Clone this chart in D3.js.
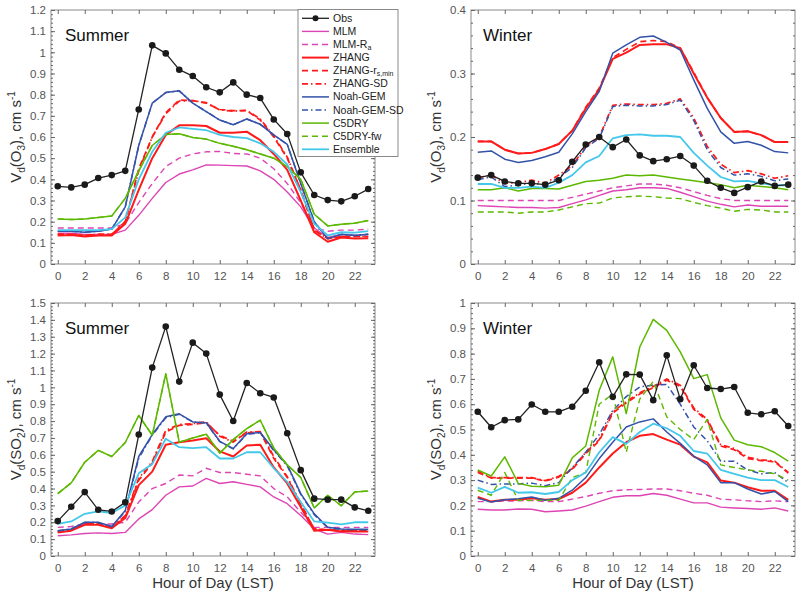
<!DOCTYPE html>
<html>
<head>
<meta charset="utf-8">
<script src="https://cdn.jsdelivr.net/npm/d3@7"></script>
<style>
    body { margin: 0; background: #fff; }
    svg { font-family: "Liberation Sans", Arial, sans-serif; }
</style>
</head>
<body>
<div id="chart"></div>
<script>
const hours = [0, 1, 2, 3, 4, 5, 6, 7, 8, 9, 10, 11, 12, 13, 14, 15, 16, 17, 18, 19, 20, 21, 22, 23];
const xTickHours = [0, 2, 4, 6, 8, 10, 12, 14, 16, 18, 20, 22];

const seriesNames = ["Obs", "MLM", "MLM-Ra", "ZHANG", "ZHANG-rs,min", "ZHANG-SD",
    "Noah-GEM", "Noah-GEM-SD", "C5DRY", "C5DRY-fw", "Ensemble"];

// rows follow seriesNames order
const o3Summer = [
    [0.367, 0.362, 0.375, 0.406, 0.42, 0.44, 0.73, 1.033, 0.995, 0.918, 0.888, 0.835, 0.811, 0.858, 0.80, 0.784, 0.683, 0.614, 0.433, 0.326, 0.302, 0.296, 0.32, 0.354],
    [0.145, 0.145, 0.14, 0.14, 0.14, 0.16, 0.23, 0.31, 0.385, 0.425, 0.445, 0.468, 0.467, 0.465, 0.463, 0.44, 0.40, 0.34, 0.27, 0.17, 0.125, 0.14, 0.135, 0.14],
    [0.17, 0.17, 0.17, 0.17, 0.17, 0.19, 0.29, 0.38, 0.46, 0.50, 0.52, 0.53, 0.532, 0.522, 0.52, 0.50, 0.45, 0.38, 0.29, 0.17, 0.155, 0.16, 0.16, 0.165],
    [0.135, 0.137, 0.13, 0.135, 0.135, 0.19, 0.35, 0.50, 0.61, 0.655, 0.655, 0.652, 0.62, 0.62, 0.625, 0.585, 0.52, 0.445, 0.30, 0.15, 0.105, 0.125, 0.12, 0.122],
    [0.14, 0.14, 0.135, 0.14, 0.14, 0.2, 0.45, 0.60, 0.715, 0.775, 0.772, 0.76, 0.73, 0.725, 0.725, 0.68, 0.60, 0.50, 0.35, 0.16, 0.12, 0.13, 0.13, 0.13],
    [0.14, 0.14, 0.135, 0.14, 0.14, 0.2, 0.44, 0.60, 0.71, 0.77, 0.772, 0.762, 0.728, 0.722, 0.726, 0.685, 0.605, 0.505, 0.35, 0.16, 0.12, 0.13, 0.13, 0.13],
    [0.155, 0.155, 0.15, 0.155, 0.165, 0.27, 0.56, 0.76, 0.81, 0.818, 0.76, 0.72, 0.68, 0.658, 0.685, 0.66, 0.61, 0.565, 0.38, 0.20, 0.12, 0.14, 0.135, 0.14],
    [0.155, 0.155, 0.15, 0.155, 0.165, 0.27, 0.56, 0.76, 0.81, 0.818, 0.76, 0.72, 0.68, 0.658, 0.685, 0.66, 0.61, 0.565, 0.38, 0.20, 0.12, 0.14, 0.135, 0.14],
    [0.213, 0.21, 0.213, 0.22, 0.227, 0.31, 0.44, 0.56, 0.612, 0.615, 0.598, 0.59, 0.57, 0.556, 0.54, 0.52, 0.50, 0.46, 0.40, 0.235, 0.18, 0.188, 0.193, 0.205],
    [0.213, 0.21, 0.213, 0.22, 0.227, 0.31, 0.44, 0.56, 0.612, 0.615, 0.598, 0.59, 0.57, 0.556, 0.54, 0.52, 0.50, 0.46, 0.40, 0.235, 0.18, 0.188, 0.193, 0.205],
    [0.16, 0.16, 0.16, 0.16, 0.165, 0.22, 0.40, 0.53, 0.62, 0.645, 0.638, 0.632, 0.61, 0.60, 0.595, 0.57, 0.53, 0.47, 0.34, 0.19, 0.135, 0.15, 0.148, 0.155]
];

const o3Winter = [
    [0.136, 0.14, 0.13, 0.127, 0.127, 0.125, 0.132, 0.161, 0.188, 0.2, 0.184, 0.196, 0.171, 0.162, 0.165, 0.17, 0.155, 0.131, 0.12, 0.112, 0.121, 0.13, 0.123, 0.125],
    [0.092, 0.091, 0.09, 0.089, 0.089, 0.088, 0.089, 0.095, 0.101, 0.108, 0.115, 0.117, 0.12, 0.12, 0.119, 0.113, 0.106, 0.099, 0.094, 0.09, 0.093, 0.091, 0.091, 0.091],
    [0.1, 0.1, 0.1, 0.1, 0.1, 0.1, 0.1, 0.105, 0.11, 0.115, 0.12, 0.123, 0.126, 0.126, 0.124, 0.12, 0.114, 0.108, 0.103, 0.1, 0.1, 0.1, 0.1, 0.1],
    [0.193, 0.193, 0.18, 0.174, 0.175, 0.181, 0.189, 0.21, 0.245, 0.275, 0.323, 0.333, 0.345, 0.346, 0.346, 0.34, 0.30, 0.262, 0.23, 0.208, 0.209, 0.203, 0.192, 0.192],
    [0.193, 0.193, 0.18, 0.174, 0.175, 0.181, 0.189, 0.21, 0.247, 0.277, 0.325, 0.338, 0.35, 0.352, 0.35, 0.34, 0.302, 0.262, 0.23, 0.208, 0.209, 0.203, 0.192, 0.192],
    [0.136, 0.14, 0.127, 0.128, 0.132, 0.127, 0.14, 0.155, 0.185, 0.2, 0.25, 0.252, 0.251, 0.251, 0.253, 0.26, 0.23, 0.185, 0.157, 0.144, 0.147, 0.142, 0.135, 0.139],
    [0.176, 0.178, 0.165, 0.16, 0.163, 0.169, 0.176, 0.205, 0.24, 0.272, 0.332, 0.345, 0.357, 0.359, 0.349, 0.337, 0.29, 0.245, 0.208, 0.19, 0.193, 0.187, 0.177, 0.175],
    [0.133, 0.137, 0.122, 0.124, 0.128, 0.124, 0.136, 0.152, 0.183, 0.198, 0.248, 0.25, 0.249, 0.249, 0.251, 0.258, 0.226, 0.18, 0.152, 0.14, 0.142, 0.138, 0.131, 0.134],
    [0.117, 0.117, 0.12, 0.115, 0.119, 0.119, 0.118, 0.124, 0.13, 0.132, 0.135, 0.14, 0.139, 0.14, 0.137, 0.134, 0.131, 0.128, 0.125, 0.12, 0.124, 0.122, 0.12, 0.117],
    [0.082, 0.082, 0.082, 0.08, 0.082, 0.082, 0.085, 0.09, 0.095, 0.096, 0.104, 0.106, 0.107, 0.106, 0.104, 0.103, 0.097, 0.092, 0.088, 0.083, 0.086, 0.085, 0.082, 0.082],
    [0.126, 0.126, 0.12, 0.12, 0.122, 0.12, 0.128, 0.14, 0.16, 0.17, 0.198, 0.203, 0.204, 0.202, 0.202, 0.2, 0.175, 0.155, 0.137, 0.13, 0.131, 0.127, 0.124, 0.124]
];

const so2Summer = [
    [0.207, 0.292, 0.379, 0.274, 0.264, 0.318, 0.72, 1.117, 1.36, 1.034, 1.265, 1.2, 0.957, 0.80, 1.026, 0.965, 0.94, 0.728, 0.509, 0.34, 0.334, 0.334, 0.288, 0.268],
    [0.12, 0.125, 0.133, 0.137, 0.133, 0.14, 0.22, 0.275, 0.36, 0.41, 0.415, 0.46, 0.43, 0.44, 0.425, 0.41, 0.35, 0.31, 0.24, 0.16, 0.13, 0.14, 0.13, 0.127],
    [0.17, 0.175, 0.19, 0.19, 0.19, 0.2, 0.32, 0.40, 0.43, 0.48, 0.475, 0.52, 0.495, 0.495, 0.485, 0.475, 0.40, 0.35, 0.26, 0.17, 0.17, 0.17, 0.17, 0.17],
    [0.14, 0.15, 0.185, 0.185, 0.165, 0.225, 0.42, 0.50, 0.66, 0.675, 0.685, 0.698, 0.62, 0.59, 0.655, 0.66, 0.525, 0.43, 0.29, 0.15, 0.155, 0.145, 0.145, 0.145],
    [0.145, 0.155, 0.19, 0.19, 0.17, 0.235, 0.45, 0.55, 0.735, 0.775, 0.78, 0.79, 0.715, 0.68, 0.73, 0.735, 0.58, 0.465, 0.305, 0.16, 0.155, 0.15, 0.15, 0.15],
    [0.145, 0.155, 0.19, 0.19, 0.17, 0.24, 0.46, 0.56, 0.745, 0.78, 0.785, 0.795, 0.71, 0.675, 0.735, 0.738, 0.59, 0.47, 0.31, 0.16, 0.155, 0.15, 0.15, 0.15],
    [0.15, 0.16, 0.2, 0.2, 0.175, 0.27, 0.59, 0.72, 0.825, 0.843, 0.795, 0.79, 0.68, 0.637, 0.725, 0.732, 0.63, 0.54, 0.37, 0.25, 0.17, 0.16, 0.158, 0.158],
    [0.15, 0.16, 0.198, 0.198, 0.173, 0.265, 0.58, 0.715, 0.82, 0.84, 0.795, 0.788, 0.678, 0.635, 0.722, 0.73, 0.625, 0.535, 0.365, 0.245, 0.168, 0.158, 0.156, 0.156],
    [0.37, 0.434, 0.556, 0.626, 0.59, 0.673, 0.833, 0.716, 1.08, 0.675, 0.70, 0.722, 0.61, 0.69, 0.755, 0.805, 0.64, 0.54, 0.465, 0.285, 0.36, 0.298, 0.38, 0.385],
    [0.37, 0.434, 0.556, 0.626, 0.59, 0.673, 0.833, 0.716, 1.08, 0.675, 0.70, 0.722, 0.61, 0.69, 0.755, 0.805, 0.64, 0.54, 0.465, 0.285, 0.36, 0.298, 0.38, 0.385],
    [0.19, 0.205, 0.25, 0.265, 0.255, 0.30, 0.49, 0.545, 0.695, 0.645, 0.64, 0.645, 0.578, 0.578, 0.615, 0.615, 0.52, 0.44, 0.32, 0.205, 0.198, 0.187, 0.2, 0.2]
];

const so2Winter = [
    [0.57, 0.509, 0.537, 0.54, 0.599, 0.57, 0.57, 0.59, 0.653, 0.766, 0.629, 0.718, 0.717, 0.616, 0.793, 0.62, 0.754, 0.664, 0.66, 0.668, 0.566, 0.56, 0.572, 0.514],
    [0.185, 0.182, 0.182, 0.186, 0.185, 0.175, 0.178, 0.182, 0.197, 0.215, 0.232, 0.238, 0.238, 0.247, 0.24, 0.225, 0.21, 0.21, 0.193, 0.19, 0.188, 0.185, 0.19, 0.178],
    [0.215, 0.215, 0.217, 0.218, 0.22, 0.215, 0.215, 0.225, 0.235, 0.248, 0.258, 0.262, 0.263, 0.265, 0.265, 0.258, 0.248, 0.24, 0.225, 0.222, 0.218, 0.215, 0.218, 0.215],
    [0.233, 0.215, 0.222, 0.222, 0.228, 0.222, 0.225, 0.25, 0.29, 0.35, 0.405, 0.45, 0.475, 0.482, 0.46, 0.44, 0.393, 0.37, 0.298, 0.29, 0.272, 0.258, 0.258, 0.222],
    [0.33, 0.308, 0.308, 0.308, 0.308, 0.296, 0.312, 0.342, 0.405, 0.455, 0.565, 0.605, 0.64, 0.665, 0.695, 0.67, 0.58, 0.535, 0.435, 0.42, 0.385, 0.377, 0.372, 0.328],
    [0.335, 0.31, 0.31, 0.31, 0.31, 0.298, 0.315, 0.345, 0.41, 0.46, 0.57, 0.61, 0.645, 0.67, 0.70, 0.675, 0.585, 0.54, 0.44, 0.425, 0.39, 0.38, 0.375, 0.33],
    [0.228, 0.213, 0.222, 0.226, 0.233, 0.22, 0.228, 0.26, 0.31, 0.385, 0.45, 0.51, 0.53, 0.542, 0.49, 0.445, 0.395, 0.36, 0.29, 0.29, 0.265, 0.245, 0.255, 0.215],
    [0.30, 0.283, 0.285, 0.285, 0.288, 0.278, 0.29, 0.35, 0.41, 0.48, 0.575, 0.63, 0.668, 0.676, 0.678, 0.60, 0.51, 0.455, 0.375, 0.375, 0.34, 0.325, 0.33, 0.29],
    [0.34, 0.316, 0.392, 0.287, 0.276, 0.274, 0.28, 0.388, 0.435, 0.655, 0.787, 0.563, 0.826, 0.935, 0.892, 0.807, 0.701, 0.717, 0.546, 0.458, 0.44, 0.432, 0.409, 0.375],
    [0.26, 0.24, 0.33, 0.22, 0.22, 0.22, 0.22, 0.31, 0.33, 0.60, 0.64, 0.41, 0.62, 0.69, 0.55, 0.50, 0.46, 0.54, 0.36, 0.35, 0.34, 0.335, 0.325, 0.30],
    [0.27, 0.25, 0.273, 0.25, 0.252, 0.245, 0.253, 0.30, 0.33, 0.41, 0.47, 0.443, 0.49, 0.523, 0.505, 0.475, 0.415, 0.405, 0.34, 0.325, 0.31, 0.30, 0.30, 0.273]
];

const seriesColors = ["#222222", "#dd44b4", "#dd44b4", "#ff1a1a", "#ff1a1a", "#ff1a1a",
    "#3352a8", "#3352a8", "#5cb800", "#5cb800", "#44c8ea"];
const seriesDash = [null, null, "6,4", null, "6,4", "6,3,1.5,3", null, "6,3,1.5,3", null, "6,4", null];
const seriesWidth = [1.3, 1.4, 1.4, 2, 1.7, 1.7, 1.5, 1.5, 1.5, 1.4, 1.8];

const panels = [
    { data: o3Summer, yMax: 1.2, gas: "3", season: "Summer", left: 51, right: 375, top: 10, bottom: 264 },
    { data: o3Winter, yMax: 0.4, gas: "3", season: "Winter", left: 471, right: 795, top: 10, bottom: 264 },
    { data: so2Summer, yMax: 1.5, gas: "2", season: "Summer", left: 51, right: 375, top: 303, bottom: 556, xTitle: true },
    { data: so2Winter, yMax: 1.0, gas: "2", season: "Winter", left: 471, right: 795, top: 303, bottom: 556, xTitle: true }
];

const width = 800;
const height = 600;

const svg = d3.select("#chart")
    .append("svg")
    .attr("width", width)
    .attr("height", height);

const fmt = v => String(+v.toFixed(2));

panels.forEach((p, pi) => {
    const x = d3.scaleLinear().domain([-0.5, 23.5]).range([p.left, p.right]);
    const y = d3.scaleLinear().domain([0, p.yMax]).range([p.bottom, p.top]);
    const majors = d3.range(0, p.yMax + 1e-9, 0.1);
    const minors = d3.range(0, p.yMax + 1e-9, 0.02);

    const g = svg.append("g");

    g.append("rect")
        .attr("x", p.left)
        .attr("y", p.top)
        .attr("width", p.right - p.left)
        .attr("height", p.bottom - p.top)
        .attr("fill", "#fff")
        .attr("stroke", "#8a8a8a")
        .attr("stroke-width", 1);

    const styleAxis = sel => {
        sel.select(".domain").remove();
        sel.selectAll(".tick line").attr("stroke", "#666");
        sel.selectAll(".tick text").attr("fill", "#555").style("font-size", "11.5px");
    };

    // minor ticks
    g.append("g").attr("transform", `translate(${p.left},0)`)
        .call(d3.axisLeft(y).tickValues(minors).tickSize(-2).tickFormat(""))
        .call(styleAxis);
    g.append("g").attr("transform", `translate(${p.right},0)`)
        .call(d3.axisRight(y).tickValues(minors).tickSize(-2).tickFormat(""))
        .call(styleAxis);

    // major ticks
    g.append("g").attr("transform", `translate(${p.left},0)`)
        .call(d3.axisLeft(y).tickValues(majors).tickSize(-4).tickPadding(5).tickFormat(fmt))
        .call(styleAxis);
    g.append("g").attr("transform", `translate(${p.right},0)`)
        .call(d3.axisRight(y).tickValues(majors).tickSize(-4).tickFormat(""))
        .call(styleAxis);
    g.append("g").attr("transform", `translate(0,${p.bottom})`)
        .call(d3.axisBottom(x).tickValues(xTickHours).tickSize(-4).tickPadding(8))
        .call(styleAxis);
    g.append("g").attr("transform", `translate(0,${p.top})`)
        .call(d3.axisTop(x).tickValues(xTickHours).tickSize(-4).tickFormat(""))
        .call(styleAxis);

    const line = d3.line()
        .x((d, i) => x(hours[i]))
        .y(d => y(d));

    const order = [1, 2, 3, 4, 5, 6, 7, 8, 9, 10, 0];
    order.forEach(si => {
        g.append("path")
            .datum(p.data[si])
            .attr("d", line)
            .attr("fill", "none")
            .attr("stroke", seriesColors[si])
            .attr("stroke-width", seriesWidth[si])
            .attr("stroke-dasharray", seriesDash[si])
            .attr("stroke-linejoin", "round");
    });

    g.selectAll(".obs")
        .data(p.data[0])
        .enter()
        .append("circle")
        .attr("cx", (d, i) => x(hours[i]))
        .attr("cy", d => y(d))
        .attr("r", 3.3)
        .attr("fill", "#1a1a1a");

    // season label
    g.append("text")
        .attr("x", p.left + (pi % 2 === 0 ? 14 : 12))
        .attr("y", p.top + 31)
        .style("font-size", "17px")
        .style("fill", "#111")
        .text(p.season);

    // y title
    const yt = g.append("text")
        .attr("transform", `translate(${p.left - 30},${(p.top + p.bottom) / 2}) rotate(-90)`)
        .attr("text-anchor", "middle")
        .style("font-size", "15px")
        .style("fill", "#333");
    yt.append("tspan").text("V");
    yt.append("tspan").attr("dy", 4).style("font-size", "10px").text("d");
    yt.append("tspan").attr("dy", -4).text("(" + (p.gas === "3" ? "O" : "SO"));
    yt.append("tspan").attr("dy", 4).style("font-size", "10px").text(p.gas);
    yt.append("tspan").attr("dy", -4).text("), cm s");
    yt.append("tspan").attr("dy", -6).style("font-size", "10px").text("-1");

    if (p.xTitle) {
        g.append("text")
            .attr("x", (p.left + p.right) / 2)
            .attr("y", 588)
            .attr("text-anchor", "middle")
            .style("font-size", "15px")
            .style("fill", "#333")
            .text("Hour of Day (LST)");
    }
});

// legend
const legend = svg.append("g");
const lx = 298, ly = 9.5, rowH = 13.1;

legend.append("rect")
    .attr("x", lx)
    .attr("y", ly)
    .attr("width", 100)
    .attr("height", 147)
    .attr("fill", "#fff")
    .attr("stroke", "#8a8a8a");

seriesNames.forEach((name, i) => {
    const cy = 18.3 + i * rowH;
    legend.append("line")
        .attr("x1", lx + 4)
        .attr("x2", lx + 31)
        .attr("y1", cy)
        .attr("y2", cy)
        .attr("stroke", seriesColors[i])
        .attr("stroke-width", seriesWidth[i])
        .attr("stroke-dasharray", seriesDash[i]);
    if (i === 0) {
        legend.append("circle")
            .attr("cx", lx + 17.5)
            .attr("cy", cy)
            .attr("r", 3)
            .attr("fill", "#1a1a1a");
    }
    const t = legend.append("text")
        .attr("x", lx + 35)
        .attr("y", cy + 3.5)
        .style("font-size", "10.5px")
        .style("fill", "#222");
    if (name === "MLM-Ra") {
        t.append("tspan").text("MLM-R");
        t.append("tspan").attr("dy", 2).style("font-size", "7px").text("a");
    } else if (name === "ZHANG-rs,min") {
        t.append("tspan").text("ZHANG-r");
        t.append("tspan").attr("dy", 2).style("font-size", "7px").text("s,min");
    } else {
        t.text(name);
    }
});
</script>
</body>
</html>
